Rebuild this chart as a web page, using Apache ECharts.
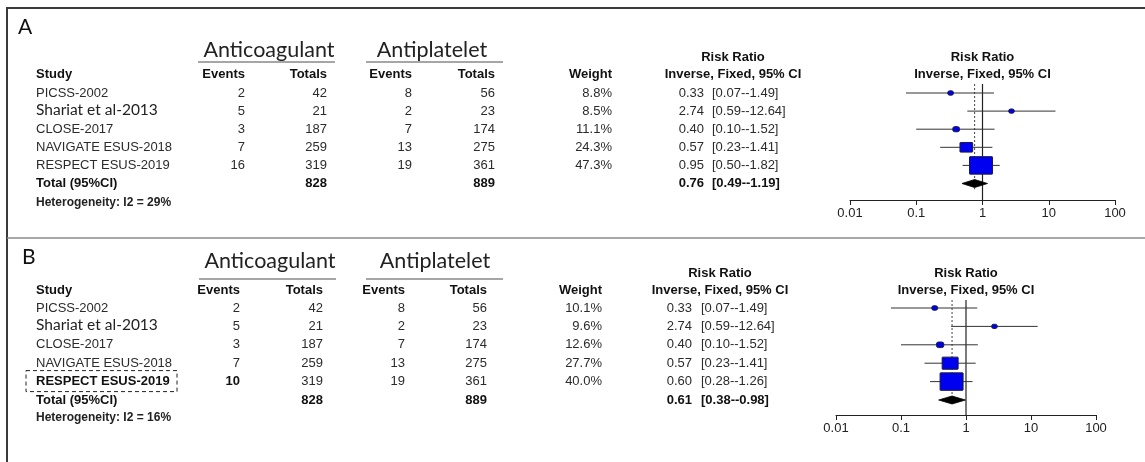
<!DOCTYPE html>
<html>
<head>
<meta charset="utf-8">
<title>Anticoagulant vs Antiplatelet – Forest plots</title>
<script src="https://cdn.jsdelivr.net/npm/echarts@6/dist/echarts.min.js"></script>
<style>
  html, body { margin: 0; padding: 0; background: #fff; }
  #chart { width: 1145px; height: 462px; }
</style>
</head>
<body>
<div id="chart"></div>
<script>
// ---- Study data ----
const studies = ['PICSS-2002', 'Shariat et al-2013', 'CLOSE-2017', 'NAVIGATE ESUS-2018', 'RESPECT ESUS-2019'];
const antiCoagTotals = [42, 21, 187, 259, 319];
const antiPlateletEvents = [8, 2, 7, 13, 19];
const antiPlateletTotals = [56, 23, 174, 275, 361];
const antiCoagTotalSum = 828;
const antiPlateletTotalSum = 889;

// Panel A
const antiCoagEventsA = [2, 5, 3, 7, 16];
const weightsA = [8.8, 8.5, 11.1, 24.3, 47.3];
const rrA = [0.33, 2.74, 0.40, 0.57, 0.95];
const lowerA = [0.07, 0.59, 0.10, 0.23, 0.50];
const upperA = [1.49, 12.64, 1.52, 1.41, 1.82];
const pooledA = [0.76, 0.49, 1.19];
const i2A = 29;

// Panel B
const antiCoagEventsB = [2, 5, 3, 7, 10];
const weightsB = [10.1, 9.6, 12.6, 27.7, 40.0];
const rrB = [0.33, 2.74, 0.40, 0.57, 0.60];
const lowerB = [0.07, 0.59, 0.10, 0.23, 0.28];
const upperB = [1.49, 12.64, 1.52, 1.41, 1.26];
const pooledB = [0.61, 0.38, 0.98];
const i2B = 16;

// Axis ticks of the risk-ratio scale
const axisTicks = [0.01, 0.1, 1, 10, 100];
const tickLabels = ['0.01', '0.1', '1', '10', '100'];

// ---- Layout of each panel (pixels) ----
const layoutA = {
  letter: 'A', letterX: 18, letterY: 27,
  groupY: 50, underlineY: 62, rrTitleY: 57, headerY: 74,
  acCenter: 269, acLine: [198, 335], apCenter: 432, apLine: [366, 503],
  colLabel: 36, colAcEv: 245, colAcTot: 327, colApEv: 412, colApTot: 495,
  colWeight: 612, colRR: 704, colCI: 712, rrHeaderCenter: 733,
  row0: 93, step: 18.1, hetY: 203,
  plotLeft: 850, plotRight: 1115, plotTop: 84, axisY: 200
};
const layoutB = {
  letter: 'B', letterX: 22, letterY: 257,
  groupY: 261, underlineY: 279, rrTitleY: 273, headerY: 290,
  acCenter: 270, acLine: [199, 336], apCenter: 435, apLine: [366, 503],
  colLabel: 36, colAcEv: 240, colAcTot: 323, colApEv: 405, colApTot: 487,
  colWeight: 602, colRR: 692, colCI: 701, rrHeaderCenter: 720,
  row0: 308, step: 18.4, hetY: 418,
  plotLeft: 836, plotRight: 1096, plotTop: 300, axisY: 415
};

const FONT = '"Liberation Sans", Arial, Helvetica, sans-serif';
const HUMANIST = 'Lato, "Open Sans", sans-serif';
const TXT = '#2b2b2b';

function txt(text, x, y, opts) {
  opts = opts || {};
  return {
    type: 'text', silent: true, z: 10,
    style: {
      text: text, x: x, y: y,
      font: opts.font || ('13px ' + FONT),
      fill: opts.fill || TXT,
      align: opts.align || 'left', textAlign: opts.align || 'left',
      verticalAlign: 'middle', textVerticalAlign: 'middle'
    }
  };
}
function hline(x1, x2, y, color, width, dash) {
  return {
    type: 'line', silent: true, z: 5,
    shape: { x1: x1, y1: y, x2: x2, y2: y },
    style: { stroke: color, lineWidth: width, lineDash: dash || null }
  };
}

function fmt2(v) { return v.toFixed(2); }

function tableGraphics(L, acEvents, weights, rr, lower, upper, pooled, i2, boldRow) {
  const g = [];
  const bold = 'bold 13px ' + FONT;
  g.push(txt(L.letter, L.letterX, L.letterY, { font: '21px ' + HUMANIST, fill: '#111' }));
  g.push(txt('Anticoagulant', L.acCenter, L.groupY, { font: '21.5px ' + HUMANIST, align: 'center', fill: '#222' }));
  g.push(txt('Antiplatelet', L.apCenter, L.groupY, { font: '21.5px ' + HUMANIST, align: 'center', fill: '#222' }));
  g.push(hline(L.acLine[0], L.acLine[1], L.underlineY, '#888', 1.3));
  g.push(hline(L.apLine[0], L.apLine[1], L.underlineY, '#888', 1.3));

  g.push(txt('Study', L.colLabel, L.headerY, { font: bold, fill: '#111' }));
  g.push(txt('Events', L.colAcEv, L.headerY, { font: bold, align: 'right', fill: '#111' }));
  g.push(txt('Totals', L.colAcTot, L.headerY, { font: bold, align: 'right', fill: '#111' }));
  g.push(txt('Events', L.colApEv, L.headerY, { font: bold, align: 'right', fill: '#111' }));
  g.push(txt('Totals', L.colApTot, L.headerY, { font: bold, align: 'right', fill: '#111' }));
  g.push(txt('Weight', L.colWeight, L.headerY, { font: bold, align: 'right', fill: '#111' }));
  g.push(txt('Risk Ratio', L.rrHeaderCenter, L.rrTitleY, { font: bold, align: 'center', fill: '#111' }));
  g.push(txt('Inverse, Fixed, 95% CI', L.rrHeaderCenter, L.headerY, { font: bold, align: 'center', fill: '#111' }));

  const plotCenter = (L.plotLeft + L.plotRight) / 2;
  g.push(txt('Risk Ratio', plotCenter, L.rrTitleY, { font: bold, align: 'center', fill: '#111' }));
  g.push(txt('Inverse, Fixed, 95% CI', plotCenter, L.headerY, { font: bold, align: 'center', fill: '#111' }));

  for (let i = 0; i < studies.length; i++) {
    const y = L.row0 + i * L.step;
    const isBold = (i === boldRow);
    const f = isBold ? bold : ('13px ' + FONT);
    if (studies[i].indexOf('Shariat') === 0) {
      g.push(txt(studies[i], L.colLabel, y - 1.5, { font: '15.5px ' + HUMANIST, fill: '#222' }));
    } else {
      g.push(txt(studies[i], L.colLabel, y, { font: f, fill: isBold ? '#111' : TXT }));
    }
    g.push(txt(String(acEvents[i]), L.colAcEv, y, { font: f, align: 'right', fill: isBold ? '#111' : TXT }));
    g.push(txt(String(antiCoagTotals[i]), L.colAcTot, y, { align: 'right' }));
    g.push(txt(String(antiPlateletEvents[i]), L.colApEv, y, { align: 'right' }));
    g.push(txt(String(antiPlateletTotals[i]), L.colApTot, y, { align: 'right' }));
    g.push(txt(weights[i].toFixed(1) + '%', L.colWeight, y, { align: 'right' }));
    g.push(txt(fmt2(rr[i]), L.colRR, y, { align: 'right' }));
    g.push(txt('[' + fmt2(lower[i]) + '--' + fmt2(upper[i]) + ']', L.colCI, y));
  }
  const yt = L.row0 + 5 * L.step;
  g.push(txt('Total (95%CI)', L.colLabel, yt, { font: bold, fill: '#111' }));
  g.push(txt(String(antiCoagTotalSum), L.colAcTot, yt, { font: bold, align: 'right', fill: '#111' }));
  g.push(txt(String(antiPlateletTotalSum), L.colApTot, yt, { font: bold, align: 'right', fill: '#111' }));
  g.push(txt(fmt2(pooled[0]), L.colRR, yt, { font: bold, align: 'right', fill: '#111' }));
  g.push(txt('[' + fmt2(pooled[1]) + '--' + fmt2(pooled[2]) + ']', L.colCI, yt, { font: bold, fill: '#111' }));
  g.push(txt('Heterogeneity: I2 = ' + i2 + '%', L.colLabel, L.hetY, { font: 'bold 12px ' + FONT, fill: '#222' }));
  return g;
}

// y-axis range so that row i sits at row0 + i*step and the x axis at axisY
function yRange(L) {
  const min = -(L.row0 - L.plotTop) / L.step;
  const max = (L.axisY - L.plotTop) / L.step + min;
  return [min, max];
}

function forestSeries(idx, rr, lower, upper, weights, pooled, L) {
  const wMin = Math.min.apply(null, weights), wMax = Math.max.apply(null, weights);
  const yr = yRange(L);
  const studyData = rr.map((v, i) => [v, lower[i], upper[i], i, weights[i]]);
  return [
    { // line of no effect
      type: 'custom', xAxisIndex: idx, yAxisIndex: idx, silent: true, z: 2,
      data: [[1, yr[0], yr[1]]],
      renderItem: function (p, api) {
        const a = api.coord([api.value(0), api.value(1)]);
        const b = api.coord([api.value(0), api.value(2)]);
        return { type: 'line', shape: { x1: a[0], y1: a[1], x2: b[0], y2: b[1] },
                 style: { stroke: '#222', lineWidth: 1.2 } };
      }
    },
    { // pooled estimate reference
      type: 'custom', xAxisIndex: idx, yAxisIndex: idx, silent: true, z: 2,
      data: [[pooled[0], yr[0], yr[1] - 0.6]],
      renderItem: function (p, api) {
        const a = api.coord([api.value(0), api.value(1)]);
        const b = api.coord([api.value(0), api.value(2)]);
        return { type: 'line', shape: { x1: a[0], y1: a[1], x2: b[0], y2: b[1] },
                 style: { stroke: '#444', lineWidth: 1, lineDash: [2, 2] } };
      }
    },
    { // study estimates with confidence intervals
      type: 'custom', xAxisIndex: idx, yAxisIndex: idx, silent: true, z: 3,
      data: studyData,
      renderItem: function (p, api) {
        const row = api.value(3);
        const c = api.coord([api.value(0), row]);
        const lo = api.coord([api.value(1), row]);
        const hi = api.coord([api.value(2), row]);
        const frac = (api.value(4) - wMin) / (wMax - wMin);
        const w = 5.6 + frac * 17.4;
        const h = w * 0.76;
        return {
          type: 'group',
          children: [
            { type: 'line', shape: { x1: lo[0], y1: lo[1], x2: hi[0], y2: hi[1] },
              style: { stroke: '#333', lineWidth: 1 } },
            { type: 'rect', shape: { x: c[0] - w / 2, y: c[1] - h / 2, width: w, height: h, r: w < 8 ? 2 : 0.5 },
              style: { fill: '#0000f0', stroke: '#1a1a40', lineWidth: 1 } }
          ]
        };
      }
    },
    { // pooled diamond
      type: 'custom', xAxisIndex: idx, yAxisIndex: idx, silent: true, z: 4,
      data: [[pooled[0], pooled[1], pooled[2], 5]],
      renderItem: function (p, api) {
        const row = api.value(3);
        const c = api.coord([api.value(0), row]);
        const lo = api.coord([api.value(1), row]);
        const hi = api.coord([api.value(2), row]);
        const hh = 4;
        return { type: 'polygon',
                 shape: { points: [[lo[0], c[1]], [c[0], c[1] - hh], [hi[0], c[1]], [c[0], c[1] + hh]] },
                 style: { fill: '#000', stroke: '#000', lineWidth: 0.8 } };
      }
    }
  ];
}

function xAxisFor(idx) {
  return {
    type: 'log', logBase: 10, gridIndex: idx, position: 'bottom',
    min: axisTicks[0], max: axisTicks[axisTicks.length - 1],
    axisLine: { show: true, onZero: false, lineStyle: { color: '#222', width: 1 } },
    axisTick: { show: true, length: 5, lineStyle: { color: '#222', width: 1 } },
    splitLine: { show: false },
    axisLabel: {
      color: '#222', fontSize: 13, fontFamily: FONT, margin: 7,
      showMinLabel: true, showMaxLabel: true,
      formatter: function (v) {
        const k = axisTicks.findIndex(t => Math.abs(Math.log10(t) - Math.log10(v)) < 1e-6);
        return k >= 0 ? tickLabels[k] : '';
      }
    }
  };
}
function yAxisFor(idx, L) {
  const r = yRange(L);
  return { type: 'value', gridIndex: idx, inverse: true, min: r[0], max: r[1], show: false };
}
function gridFor(L) {
  return { left: L.plotLeft, width: L.plotRight - L.plotLeft, top: L.plotTop,
           height: L.axisY - L.plotTop, containLabel: false };
}

const frame = [
  hline(6, 1145, 8, '#3a3a3a', 2),
  { type: 'line', silent: true, z: 5, shape: { x1: 7, y1: 7, x2: 7, y2: 462 },
    style: { stroke: '#3a3a3a', lineWidth: 2 } },
  hline(7, 1145, 238, '#8a8a8a', 1.5),
  // dashed outline around the revised RESPECT ESUS-2019 row in panel B
  { type: 'rect', silent: true, z: 6,
    shape: { x: 26, y: layoutB.row0 + 4 * layoutB.step - 11, width: 151, height: 21 },
    style: { fill: 'none', stroke: '#222', lineWidth: 1, lineDash: [4, 3] } }
];

const chart = echarts.init(document.getElementById('chart'), null, { renderer: 'canvas' });
chart.setOption({
  backgroundColor: '#ffffff',
  animation: false,
  grid: [gridFor(layoutA), gridFor(layoutB)],
  xAxis: [xAxisFor(0), xAxisFor(1)],
  yAxis: [yAxisFor(0, layoutA), yAxisFor(1, layoutB)],
  series: forestSeries(0, rrA, lowerA, upperA, weightsA, pooledA, layoutA)
    .concat(forestSeries(1, rrB, lowerB, upperB, weightsB, pooledB, layoutB)),
  graphic: frame
    .concat(tableGraphics(layoutA, antiCoagEventsA, weightsA, rrA, lowerA, upperA, pooledA, i2A, -1))
    .concat(tableGraphics(layoutB, antiCoagEventsB, weightsB, rrB, lowerB, upperB, pooledB, i2B, 4))
});
</script>
</body>
</html>
